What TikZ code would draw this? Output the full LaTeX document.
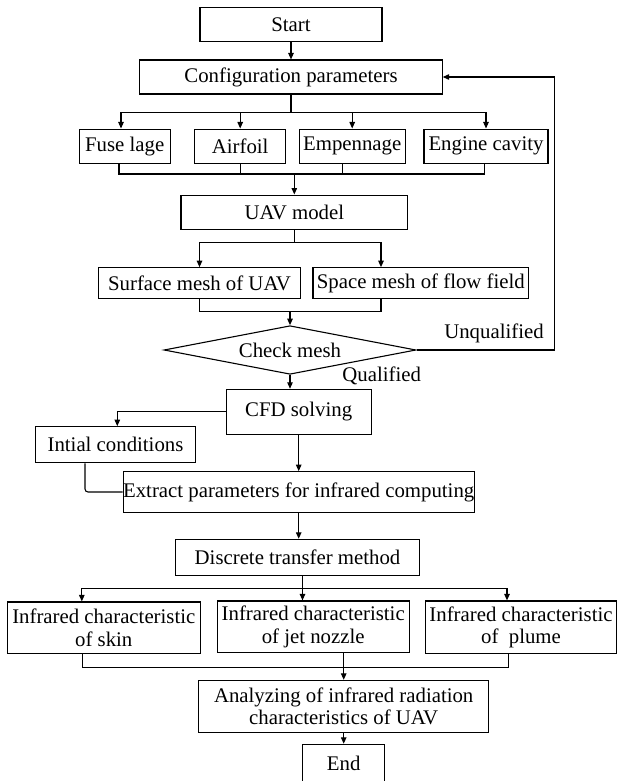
\documentclass[tikz,border=0pt]{standalone}
\usepackage{fontspec}
\setmainfont{Liberation Serif}
\usetikzlibrary{arrows.meta}
\usetikzlibrary{shapes.geometric}

\begin{document}
\begin{tikzpicture}[x=1pt,y=-1pt,
  box/.style={draw=black,line width=1.1pt,inner sep=0pt,align=center,
    font=\fontsize{20.8}{22.5}\selectfont},
  lbl/.style={inner sep=0pt,font=\fontsize{20.8}{22.5}\selectfont},
  arr/.style={-{Triangle[length=6.5pt,width=5.5pt]}},
  every path/.style={line width=1.1pt}]

\useasboundingbox (0,0) rectangle (617,781);

\node[box,minimum width=182pt,minimum height=34.4pt] (start) at (291,24.5) {Start};
\node[box,minimum width=302.3pt,minimum height=34pt] (config) at (291,77) {Configuration parameters};

\node[box,minimum width=91.3pt,minimum height=34.3pt] (fuse) at (124.7,146.2) {Fuse lage};
\node[box,minimum width=91pt,minimum height=34.3pt] (airfoil) at (240.2,146.2) {Airfoil};
\node[box,minimum width=106.3pt,minimum height=34.3pt] (emp) at (352.2,146.2) {Empennage};
\node[box,minimum width=124pt,minimum height=34.3pt] (engine) at (486,146.2) {Engine cavity};

\node[box,minimum width=226.7pt,minimum height=34.3pt] (uav) at (294.3,212.2) {UAV model};
\node[box,minimum width=202.4pt,minimum height=31pt] (surface) at (199.5,283.2) {Surface mesh of UAV};
\node[box,minimum width=215.7pt,minimum height=31pt] (space) at (420.8,283.2) {Space mesh of flow field};

\node[box,diamond,aspect=5.19,minimum width=252pt,minimum height=48.6pt] (check) at (290,350) {Check mesh};
\node[lbl] (unq) at (494,333) {Unqualified};
\node[lbl] (qual) at (381.7,376) {Qualified};

\node[box,minimum width=145.3pt,minimum height=45pt] (cfd) at (298.7,411.8) {CFD solving};
\node[box,minimum width=160.4pt,minimum height=36pt] (init) at (115.5,444.7) {Intial conditions};
\node[box,minimum width=349.4pt,minimum height=40.6pt] (extract) at (298.7,492) {Extract parameters for infrared computing};
\node[box,minimum width=243.6pt,minimum height=36pt] (discrete) at (297.5,557.3) {Discrete transfer method};

\node[box,minimum width=193pt,minimum height=51.7pt] (skin) at (103.8,627.8) {Infrared characteristic\\of skin};
\node[box,minimum width=192.3pt,minimum height=51.7pt] (jet) at (313.2,626.8) {Infrared characteristic\\of jet nozzle};
\node[box,minimum width=191pt,minimum height=52.7pt] (plume) at (521,627.3) {Infrared characteristic\\of\ \ plume};

\node[box,minimum width=289.7pt,minimum height=51.7pt] (analyze) at (343.7,706.2) {Analyzing of infrared radiation\\characteristics of UAV};
\node[box,minimum width=82.4pt,minimum height=38pt] (end) at (343.7,763.3) {End};

\coordinate (b1) at (291,112.7);
\coordinate (b2) at (294.3,174);
\coordinate (b3) at (294.3,242.7);
\coordinate (b4) at (290,311.7);
\coordinate (fb) at (554.7,350);
\coordinate (b5) at (302.5,588.3);
\coordinate (b6) at (343.7,667.7);

\draw[arr] (start) -- (config);
\draw (config.south) -- (b1);
\draw[arr] (b1) -| ([xshift=-3.7pt]fuse.north);
\draw[arr] (b1) -| (airfoil.north);
\draw[arr] (b1) -| (emp.north);
\draw[arr] (b1) -| (engine.north);
\draw ([xshift=-5.7pt]fuse.south) |- (b2) -| ([xshift=-1.3pt]engine.south);
\draw (airfoil.south) -- (airfoil.south |- b2);
\draw ([xshift=-10pt]emp.south) -- ([xshift=-10pt]emp.south |- b2);
\draw[arr] (b2) -- (uav.north);

\draw (uav.south) -- (b3);
\draw[arr] (b3) -| (surface.north);
\draw[arr] (b3) -| ([xshift=-39.8pt]space.north);
\draw (surface.south) |- (b4) -| ([xshift=-39.8pt]space.south);
\draw[arr] (b4) -- (check.north);

\draw[arr] (check.east) -- (fb) |- (config.east);
\draw[arr] (check.south) -- (check.south |- cfd.north);

\draw[arr] (cfd.west) -| ([xshift=1.8pt]init.north);
\draw[arr] (cfd.south) -- (extract.north);
\draw[rounded corners=3pt] ([xshift=-30.5pt]init.south) |- (extract.west);
\draw[arr] (extract.south) -- (extract.south |- discrete.north);

\draw (b5 |- discrete.south) -- (b5);
\draw[arr] (b5) -| ([xshift=-22pt]skin.north);
\draw[arr] (b5) -- (b5 |- jet.north);
\draw[arr] (b5) -| ([xshift=-14pt]plume.north);
\draw ([xshift=-21pt]skin.south) |- (b6) -| ([xshift=-12.3pt]plume.south);
\draw[arr] (b6 |- jet.south) -- (analyze.north);
\draw[arr] (analyze.south) -- (end.north);

\end{tikzpicture}
\end{document}
